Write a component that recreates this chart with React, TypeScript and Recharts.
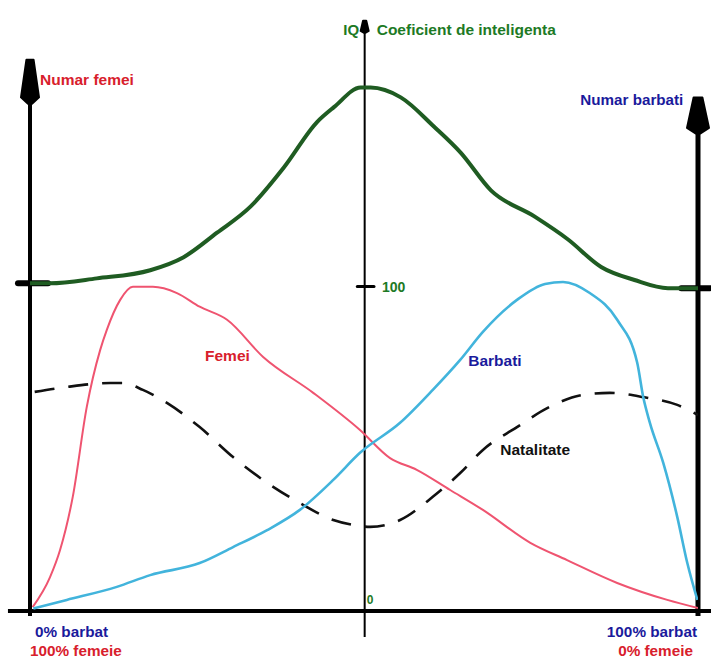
import { Line, LineChart, ReferenceDot, ReferenceLine, XAxis, YAxis } from 'recharts'

// x = % barbati in populatie (0..100), y = unitati pe axa IQ (100 = linia de referinta)
const iqX = [0, 3, 10, 18, 23, 28, 33, 38, 43, 45.5, 49.5, 51, 55.5, 60.5, 64.5, 69, 75.5, 80.5, 85.5, 90.5, 95.5, 100]
const iqY = [100.5, 100.5, 102, 104.5, 108.5, 116, 124, 136, 150, 154.5, 160.5, 160.5, 157.5, 148.5, 140.5, 129, 121, 114, 105.5, 101.5, 99, 99]

const femeiX = [0.4, 3, 4.5, 6.4, 8.5, 10.5, 11.5, 13.5, 15.4, 18.4, 22, 25.4, 29.5, 34.9, 42.4, 49.4, 53.9, 57.9, 62.9, 67.8, 74.9, 80.4, 87.9, 95.4, 100]
const femeiY = [1.2, 10.4, 18.7, 35, 62.6, 80, 86.2, 95.4, 99.4, 99.4, 97.5, 93.3, 89.3, 77.9, 66.9, 55.5, 46.9, 43.3, 37.1, 31, 20.9, 15.6, 8.6, 3.4, 0.9]

const barbatiX = [0.5, 5.5, 13, 18, 25.4, 30.4, 35.5, 40.4, 45.4, 49.4, 55.4, 60.3, 64.4, 67.8, 72.9, 77.1, 79.8, 83.8, 87.9, 90.9, 91.8, 92.8, 94.8, 96.9, 98.4, 99.9]
const barbatiY = [0.8, 3.4, 7.4, 11, 14.7, 19.6, 24.8, 31, 40.2, 48.5, 57.7, 67.8, 77, 85.6, 95.4, 100.3, 100.9, 97.5, 89.3, 76.1, 65.6, 57.7, 45.4, 28.8, 14.7, 3.4]

const natalX = [0.7, 5.5, 12, 13.9, 16.9, 20.5, 25.4, 30.4, 35.5, 40.4, 45.4, 48.4, 50.9, 55.4, 60.3, 64.4, 67.8, 72.9, 77.8, 82.8, 86.8, 91.8, 96.9, 100]
const natalY = [67.2, 68.7, 69.9, 69.9, 67.8, 63.8, 56.4, 47.2, 39.3, 33.1, 27.9, 26.4, 25.8, 27.9, 35, 42.3, 49.4, 56.4, 62.6, 66.3, 66.9, 65.6, 63.2, 60.1]

// [text, x, y, color, anchor, size]
const labels: [string, number, number, string, 'start' | 'end', number][] = [
  ['Numar femei', 1.5, 162.9, '#d8202c', 'start', 15.5],
  ['IQ', 46.9, 178.2, '#1d7a25', 'start', 15],
  ['Coeficient de inteligenta', 51.9, 178.2, '#1d7a25', 'start', 15.5],
  ['Numar barbati', 97.8, 156.7, '#1a1a9c', 'end', 15.2],
  ['100', 52.7, 99.4, '#1d7a25', 'start', 14],
  ['0', 50.4, 3.4, '#1d7a25', 'start', 12],
  ['Femei', 26.2, 78.2, '#d8202c', 'start', 15.5],
  ['Barbati', 65.6, 76.7, '#1a1a9c', 'start', 15.5],
  ['Natalitate', 70.4, 49.4, '#111111', 'start', 15.5],
  ['0% barbat', 0.75, -6.4, '#1a1a9c', 'start', 15.3],
  ['100% femeie', 0, -12, '#d8202c', 'start', 15.3],
  ['100% barbat', 99.85, -6.4, '#1a1a9c', 'end', 15.3],
  ['0% femeie', 99.25, -12, '#d8202c', 'end', 15.3],
]

const zip = (xs: number[], ys: number[]) => xs.map((x, i) => ({ x, y: ys[i] }))

const iq = zip(iqX, iqY)
const femei = zip(femeiX, femeiY)
const barbati = zip(barbatiX, barbatiY)
const natalitate = zip(natalX, natalY)

const FONT = '"Liberation Sans", Arial, sans-serif'

function arrowAxis(width: number, head: number, headLen: number) {
  return (p: any) => {
    const { x1, y1, x2, y2 } = p
    return (
      <g>
        <line x1={x1} y1={y1} x2={x2} y2={y2} stroke="#000" strokeWidth={width} />
        <path
          d={`M${x2 - head * 0.4},${y2} L${x2 + head * 0.4},${y2} L${x2 + head},${y2 + headLen * 0.85} L${x2 + width / 2},${y2 + headLen} L${x2 - width / 2},${y2 + headLen} L${x2 - head},${y2 + headLen * 0.85} Z`}
          fill="#000"
          stroke="#000"
          strokeLinejoin="round"
          strokeWidth={2}
        />
      </g>
    )
  }
}

export default function App() {
  return (
    <div style={{ position: 'absolute', left: 0, top: 0, width: 711, height: 660, background: '#fff' }}>
      <LineChart width={711} height={660} margin={{ top: 24, right: 13, bottom: 49, left: 30 }}>
        <XAxis type="number" dataKey="x" domain={[0, 100]} hide allowDataOverflow />
        <YAxis type="number" dataKey="y" domain={[0, 180]} hide allowDataOverflow />

        <ReferenceLine segment={[{ x: -3.3, y: 0 }, { x: 102, y: 0 }]} stroke="#000" strokeWidth={4} ifOverflow="visible" />
        <ReferenceLine segment={[{ x: 0, y: -1.5 }, { x: 0, y: 169 }]} ifOverflow="visible" shape={arrowAxis(4, 9, 44)} />
        <ReferenceLine segment={[{ x: 100, y: -1.5 }, { x: 100, y: 157.5 }]} ifOverflow="visible" shape={arrowAxis(5, 11, 36)} />
        <ReferenceLine segment={[{ x: 50.1, y: -8 }, { x: 50.1, y: 181 }]} ifOverflow="visible" shape={arrowAxis(2, 4, 12)} />

        <ReferenceLine segment={[{ x: -1.8, y: 100.5 }, { x: 2.7, y: 100.5 }]} stroke="#000" strokeWidth={6} strokeLinecap="round" ifOverflow="visible" />
        <ReferenceLine segment={[{ x: 97.5, y: 99 }, { x: 101.8, y: 99 }]} stroke="#000" strokeWidth={6} strokeLinecap="round" ifOverflow="visible" />
        <ReferenceLine segment={[{ x: 49, y: 99.5 }, { x: 51.5, y: 99.5 }]} stroke="#000" strokeWidth={3} strokeLinecap="round" ifOverflow="visible" />

        <Line data={natalitate} dataKey="y" type="monotone" stroke="#111" strokeWidth={2.6} strokeDasharray="20 14" dot={false} activeDot={false} isAnimationActive={false} />
        <Line data={femei} dataKey="y" type="monotone" stroke="#ef5470" strokeWidth={2} dot={false} activeDot={false} isAnimationActive={false} />
        <Line data={barbati} dataKey="y" type="monotone" stroke="#42b4dc" strokeWidth={2.6} dot={false} activeDot={false} isAnimationActive={false} />
        <Line data={iq} dataKey="y" type="monotone" stroke="#1f5c22" strokeWidth={4} dot={false} activeDot={false} isAnimationActive={false} />

        {labels.map(([text, x, y, color, anchor, size]) => (
          <ReferenceDot
            key={text}
            x={x}
            y={y}
            r={0}
            ifOverflow="visible"
            shape={(p: any) => (
              <text
                x={p.cx}
                y={p.cy}
                textAnchor={anchor}
                dominantBaseline="central"
                fill={color}
                fontFamily={FONT}
                fontWeight="bold"
                fontSize={size}
              >
                {text}
              </text>
            )}
          />
        ))}
      </LineChart>
    </div>
  )
}
